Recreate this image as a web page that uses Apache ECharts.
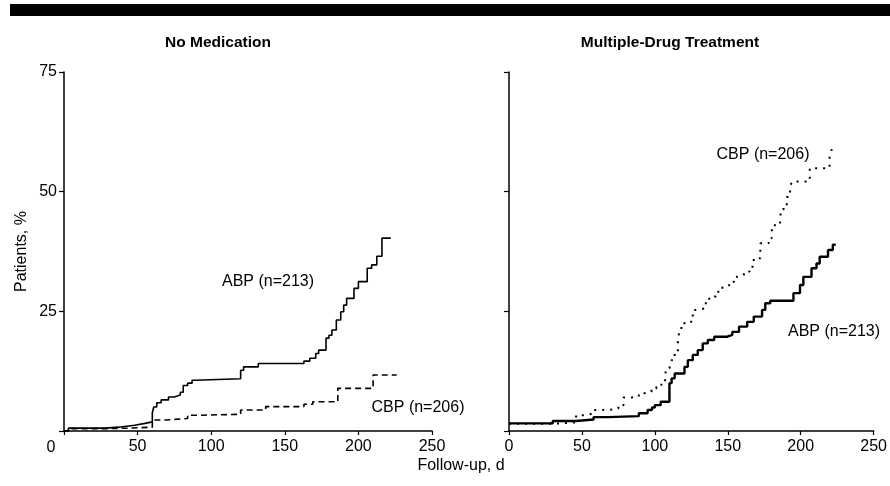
<!DOCTYPE html>
<html>
<head>
<meta charset="utf-8">
<script src="https://cdn.jsdelivr.net/npm/echarts@6/dist/echarts.min.js"></script>
<style>
html,body{margin:0;padding:0;background:#fff;}
#c{width:890px;height:486px;}
</style>
</head>
<body>
<div id="c"></div>
<script>
// ---- data (day, cumulative % of patients) ----
var xTicks = [0, 50, 100, 150, 200, 250];
var yTicks = [0, 25, 50, 75];
var panelTitles = ['No Medication', 'Multiple-Drug Treatment'];
var seriesNames = ['ABP (n=213)', 'CBP (n=206)'];

var noMedABP = [[0,0],[3,0.6],[28,0.8],[37,1.2],[48,1.6],[55,1.9],[60,3.8],[61,5.0],[63,5.9],[66,6.5],[71,7.1],[75,7.5],[79,8.1],[81,9.5],[84,10.0],[87,10.6],[89,10.9],[120,12.7],[122,13.4],[132,14.1],[163,14.6],[167,15.2],[171,16.2],[173,16.9],[178,19.4],[180,20.0],[182,21.1],[185,23.2],[188,24.9],[190,26.3],[192,27.7],[197,29.8],[200,31.2],[206,34.0],[209,34.7],[212.5,36.5],[216,40.3],[222,40.3]];
var noMedCBP = [[0,0],[3,0.5],[30,0.6],[45,0.8],[60,2.3],[69,2.6],[84,3.3],[93,3.5],[120,4.4],[137,5.1],[163,5.6],[169,6.1],[186,8.9],[210,11.7],[226,11.7]];
var multiABP = [[0,1.6],[30,2.1],[46,2.4],[58,2.9],[68,3.1],[89,3.7],[95,4.4],[98,4.9],[100,5.4],[104,6.1],[110,10.0],[111.5,11.0],[113.6,12.0],[120.3,13.4],[122.6,14.8],[126,15.9],[129.4,16.9],[132.8,18.3],[136.3,19.0],[140.7,19.7],[149.7,20.1],[153.1,20.7],[157.7,21.8],[163.3,22.8],[167.8,23.9],[173.5,25.3],[175.7,26.7],[179.1,27.2],[195,28.8],[199.5,30.5],[201.8,32.2],[207.4,34.0],[210.8,35.0],[213,36.4],[218.7,37.8],[222,38.9],[224,38.9]];
var multiCBP = [[0,1.5],[30,1.8],[46,3.3],[52.5,3.7],[58,4.4],[64,4.5],[73,4.7],[75,5.4],[78.5,7.0],[84,7.2],[89,7.9],[93,8.2],[97.7,8.9],[101,9.6],[104.5,10.3],[107,11.7],[108,13.1],[110,13.5],[111.3,14.8],[113.6,16.6],[115.8,18.7],[117,21.5],[120.3,22.8],[126,25.3],[129.4,25.6],[134,26.7],[137.3,28.1],[141.8,29.1],[146.3,30.1],[148.6,30.5],[151,31.2],[154.3,32.2],[156.5,32.6],[161,33.3],[165,34.3],[167.8,36.1],[172.3,39.2],[178,40.3],[180.2,43.0],[185.9,44.4],[186.5,46.2],[188.2,47.2],[190.4,48.9],[192.7,50.7],[193.8,52.1],[206.2,54.9],[219.8,57.3],[221,58.7],[224.3,58.7]];

var FONT = '"Liberation Sans", Arial, Helvetica, sans-serif';
var chart = echarts.init(document.getElementById('c'), null, {renderer:'canvas'});

function xAx(i, hideZero){
  return {
    type:'value', gridIndex:i, min:xTicks[0], max:xTicks[xTicks.length-1], interval:50,
    axisLine:{show:true, onZero:false, lineStyle:{color:'#000', width:1.5}},
    axisTick:{show:true, inside:false, length:4, lineStyle:{color:'#000', width:1.2}},
    axisLabel:{show:true, color:'#000', fontSize:16, fontFamily:FONT, margin:8,
      formatter:function(v){return (hideZero && v===0)?'':String(v);}},
    splitLine:{show:false}
  };
}
function yAx(i, showLabel){
  return {
    type:'value', gridIndex:i, min:yTicks[0], max:yTicks[yTicks.length-1], interval:25,
    axisLine:{show:true, lineStyle:{color:'#000', width:1.5}},
    axisTick:{show:true, inside:false, length:5, lineStyle:{color:'#000', width:1.2}},
    axisLabel:{show:showLabel, color:'#000', fontSize:16, fontFamily:FONT, margin:7,
      formatter:function(v){return v===0?'':String(v);}},
    splitLine:{show:false},
    name: showLabel ? 'Patients, %' : '',
    nameLocation:'middle', nameGap:34, nameRotate:90,
    nameTextStyle:{color:'#000', fontSize:16, fontFamily:FONT}
  };
}

var option = {
  animation:false,
  backgroundColor:'#fff',
  grid:[
    {left:64, top:72, width:368, height:359},
    {left:509, top:72, width:369, height:359}
  ],
  xAxis:[xAx(0,true), xAx(1,false)],
  yAxis:[yAx(0,true), yAx(1,false)],
  series:[
    {name:seriesNames[0], type:'line', xAxisIndex:0, yAxisIndex:0, step:'end', data:noMedABP, showSymbol:false,
      lineStyle:{color:'#000', width:1.6}},
    {name:seriesNames[1], type:'line', xAxisIndex:0, yAxisIndex:0, step:'end', data:noMedCBP, showSymbol:false,
      lineStyle:{color:'#000', width:1.6, type:[6,4]}},
    {name:seriesNames[0], type:'line', xAxisIndex:1, yAxisIndex:1, step:'end', data:multiABP, showSymbol:false,
      lineStyle:{color:'#000', width:2.4}},
    {name:seriesNames[1], type:'line', xAxisIndex:1, yAxisIndex:1, step:'end', data:multiCBP, showSymbol:false,
      lineStyle:{color:'#000', width:2, type:[2,6]}}
  ],
  graphic:[
    {type:'rect', shape:{x:10, y:4, width:880, height:12}, style:{fill:'#000'}},
    {type:'text', x:218, y:43, style:{text:panelTitles[0], fill:'#000', font:'bold 15.5px '+FONT, textAlign:'center', textVerticalAlign:'middle'}},
    {type:'text', x:670, y:43, style:{text:panelTitles[1], fill:'#000', font:'bold 15.5px '+FONT, textAlign:'center', textVerticalAlign:'middle'}},
    {type:'text', x:268, y:282, style:{text:seriesNames[0], fill:'#000', font:'16px '+FONT, textAlign:'center', textVerticalAlign:'middle'}},
    {type:'text', x:418, y:408, style:{text:seriesNames[1], fill:'#000', font:'16px '+FONT, textAlign:'center', textVerticalAlign:'middle'}},
    {type:'text', x:763, y:155, style:{text:seriesNames[1], fill:'#000', font:'16px '+FONT, textAlign:'center', textVerticalAlign:'middle'}},
    {type:'text', x:834, y:332, style:{text:seriesNames[0], fill:'#000', font:'16px '+FONT, textAlign:'center', textVerticalAlign:'middle'}},
    {type:'text', x:461, y:466, style:{text:'Follow-up, d', fill:'#000', font:'16px '+FONT, textAlign:'center', textVerticalAlign:'middle'}},
    {type:'text', x:51, y:448, style:{text:'0', fill:'#000', font:'16px '+FONT, textAlign:'center', textVerticalAlign:'middle'}}
  ]
};
chart.setOption(option);
</script>
</body>
</html>
